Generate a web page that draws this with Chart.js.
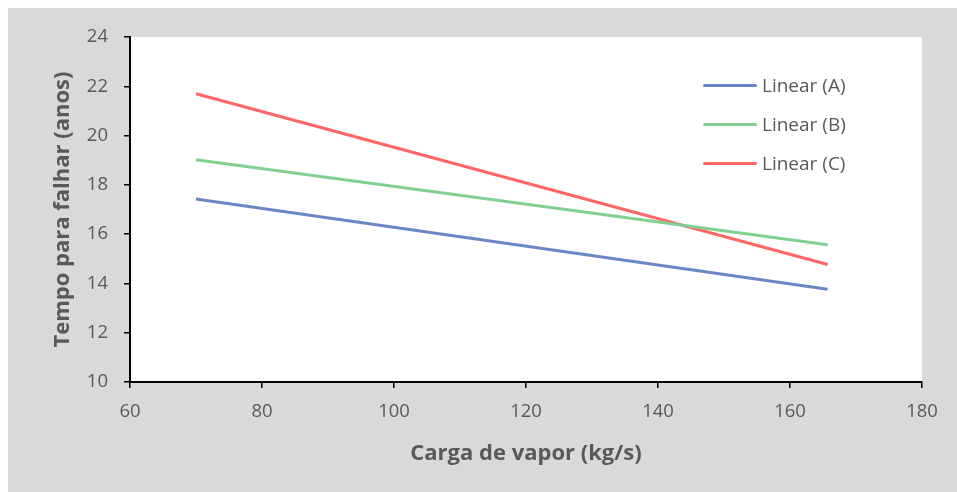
<!DOCTYPE html>
<html>
<head>
<meta charset="utf-8">
<script src="https://cdn.jsdelivr.net/npm/chart.js@4/dist/chart.umd.min.js"></script>
<style>
  html, body { margin: 0; padding: 0; background: #ffffff; }
  #wrap { position: absolute; left: 8px; top: 8px; width: 949px; height: 484px; background: #d9d9d9; }
  #legend { position: absolute; left: 695px; top: 58px; font-family: "Open Sans", sans-serif; font-size: 19px; color: #595959; }
  .row { position: relative; height: 38.8px; line-height: 38.8px; white-space: nowrap; }
  .sw { position: absolute; left: 0; top: 18px; width: 54px; height: 3px; border-radius: 1.5px; }
  .lab { position: absolute; left: 59px; top: 0; }
</style>
</head>
<body>
<div id="wrap"><canvas id="c"></canvas><div id="legend"></div></div>
<script>
// Data
const xValues = [70, 165.7];
const seriesA = [17.43, 13.76];
const seriesB = [19.02, 15.57];
const seriesC = [21.70, 14.77];
const seriesNames = ['Linear (A)', 'Linear (B)', 'Linear (C)'];
const seriesColors = ['#6b86c6', '#82cf92', '#ff6666'];
const xTicks = [60, 80, 100, 120, 140, 160, 180];
const yTicks = [10, 12, 14, 16, 18, 20, 22, 24];
const xTitle = 'Carga de vapor (kg/s)';
const yTitle = 'Tempo para falhar (anos)';

const allSeries = [seriesA, seriesB, seriesC];
const datasets = allSeries.map((s, i) => ({
  label: seriesNames[i],
  data: xValues.map((x, j) => ({ x: x, y: s[j] })),
  borderColor: seriesColors[i],
  backgroundColor: seriesColors[i],
  borderWidth: 3,
  pointRadius: 0,
  fill: false,
  tension: 0
}));

const plotBg = {
  id: 'plotBg',
  beforeDraw(chart) {
    const { ctx, chartArea: a } = chart;
    ctx.save();
    ctx.fillStyle = '#ffffff';
    ctx.fillRect(a.left, a.top, a.right - a.left, a.bottom - a.top);
    ctx.restore();
  }
};

const tickFont = { family: '"Open Sans", sans-serif', size: 18.5 };
const titleFont = { family: '"Open Sans", sans-serif', size: 22, weight: 'bold' };

new Chart(document.getElementById('c'), {
  type: 'line',
  data: { datasets },
  options: {
    responsive: true,
    maintainAspectRatio: false,
    animation: false,
    layout: { padding: { left: 0, right: 35, top: 29, bottom: 0 } },
    plugins: { legend: { display: false }, tooltip: { enabled: false } },
    scales: {
      x: {
        type: 'linear',
        min: xTicks[0], max: xTicks[xTicks.length - 1],
        afterBuildTicks: s => { s.ticks = xTicks.map(v => ({ value: v })); },
        afterFit: s => { s.height = 110; },
        grid: { display: true, drawOnChartArea: false, drawTicks: true, tickLength: 6, color: '#000', lineWidth: 1.5 },
        border: { display: true, color: '#000', width: 2 },
        ticks: { color: '#595959', font: tickFont, padding: 13, maxRotation: 0 },
        title: { display: true, text: xTitle, color: '#595959', font: titleFont, padding: { top: 0, bottom: 25 } }
      },
      y: {
        type: 'linear',
        min: yTicks[0], max: yTicks[yTicks.length - 1],
        afterBuildTicks: s => { s.ticks = yTicks.map(v => ({ value: v })); },
        afterFit: s => { s.width = 122; },
        grid: { display: true, drawOnChartArea: false, drawTicks: true, tickLength: 6, color: '#000', lineWidth: 1.5 },
        border: { display: true, color: '#000', width: 2 },
        ticks: { color: '#595959', font: tickFont, padding: 16 },
        title: { display: true, text: yTitle, color: '#595959', font: titleFont, padding: { top: 42, bottom: 0 } }
      }
    }
  },
  plugins: [plotBg]
});

const leg = document.getElementById('legend');
seriesNames.forEach((n, i) => {
  const r = document.createElement('div');
  r.className = 'row';
  const sw = document.createElement('div');
  sw.className = 'sw';
  sw.style.background = seriesColors[i];
  const t = document.createElement('span');
  t.className = 'lab';
  t.textContent = n;
  r.appendChild(sw); r.appendChild(t);
  leg.appendChild(r);
});
</script>
</body>
</html>
